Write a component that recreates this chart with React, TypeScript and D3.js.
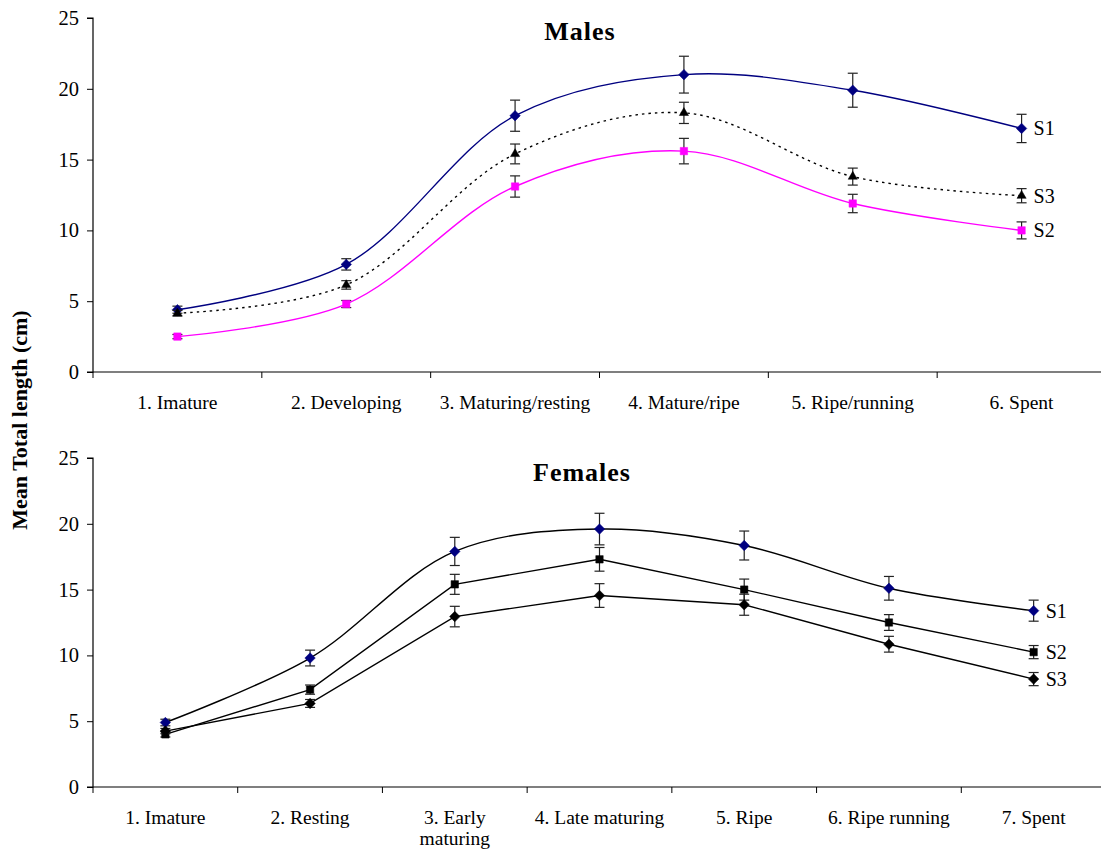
import React, { useRef, useEffect } from "react";
import * as d3 from "d3";

// Males
const maleStages = ["1. Imature", "2. Developing", "3. Maturing/resting", "4. Mature/ripe", "5. Ripe/running", "6. Spent"];
const maleS1 = [4.4, 7.6, 18.1, 21.0, 19.9, 17.2];
const maleS1Err = [0.25, 0.4, 1.1, 1.3, 1.2, 1.0];
const maleS2 = [2.5, 4.8, 13.1, 15.6, 11.9, 10.0];
const maleS2Err = [0.15, 0.25, 0.75, 0.9, 0.65, 0.6];
const maleS3 = [4.15, 6.15, 15.4, 18.3, 13.8, 12.45];
const maleS3Err = [0.2, 0.3, 0.7, 0.75, 0.6, 0.5];

// Females
const femaleStages = ["1. Imature", "2. Resting", "3. Early|maturing", "4. Late maturing", "5. Ripe", "6. Ripe running", "7. Spent"];
const femaleS1 = [4.9, 9.8, 17.9, 19.6, 18.35, 15.1, 13.4];
const femaleS1Err = [0.25, 0.6, 1.07, 1.2, 1.1, 0.9, 0.8];
const femaleS2 = [4.0, 7.4, 15.4, 17.3, 15.0, 12.5, 10.25];
const femaleS2Err = [0.2, 0.35, 0.76, 0.9, 0.8, 0.6, 0.5];
const femaleS3 = [4.25, 6.35, 12.95, 14.55, 13.85, 10.85, 8.2];
const femaleS3Err = [0.2, 0.3, 0.78, 0.9, 0.8, 0.6, 0.5];

const yTicks = [0, 5, 10, 15, 20, 25];
const FONT = "'Liberation Serif', 'Times New Roman', serif";

type Series = {
  name: string;
  values: number[];
  err: number[];
  stroke: string;
  dash?: string;
  smooth: boolean;
  marker: "diamond" | "square" | "triangle";
  fill: string;
};

function drawPanel(
  svg: d3.Selection<SVGSVGElement, unknown, null, undefined>,
  stages: string[],
  series: Series[],
  title: string,
  box: { x0: number; x1: number; yTop: number; yBottom: number },
  titlePos: [number, number]
) {
  const x = d3.scaleBand().domain(stages).range([box.x0, box.x1]).padding(0);
  const y = d3.scaleLinear().domain([0, 25]).range([box.yBottom, box.yTop]);
  const cx = (i: number) => (x(stages[i]) as number) + x.bandwidth() / 2;
  const g = svg.append("g");

  // y axis
  const ya = g.append("g")
    .attr("transform", `translate(${box.x0},0)`)
    .call(d3.axisLeft(y).tickValues(yTicks).tickSize(6).tickPadding(8));
  ya.select(".domain").attr("stroke", "#000").attr("stroke-width", 1.2).attr("d", `M-6,${box.yBottom}H0V${box.yTop}H-6`);
  ya.selectAll("line").attr("stroke", "#000");
  ya.selectAll("text").attr("font-family", FONT).attr("font-size", 20.5).attr("fill", "#000");

  // x axis
  const xa = g.append("g").attr("transform", `translate(0,${box.yBottom})`);
  xa.append("line").attr("x1", box.x0).attr("x2", box.x1).attr("stroke", "#000").attr("stroke-width", 1.2);
  stages.forEach((s, i) => {
    const tx = x(s) as number;
    xa.append("line").attr("x1", tx).attr("x2", tx).attr("y1", 0).attr("y2", 6).attr("stroke", "#000");
    s.split("|").forEach((l, j) => {
      xa.append("text")
        .attr("x", cx(i))
        .attr("y", 37 + j * 21)
        .attr("text-anchor", "middle")
        .attr("font-family", FONT)
        .attr("font-size", 19.5)
        .text(l);
    });
  });

  // title
  g.append("text")
    .attr("x", titlePos[0])
    .attr("y", titlePos[1])
    .attr("text-anchor", "middle")
    .attr("font-family", FONT)
    .attr("font-weight", "bold")
    .attr("font-size", 26)
    .attr("letter-spacing", 1)
    .text(title);

  series.forEach((se) => {
    const line = d3.line<number>()
      .x((_, i) => cx(i))
      .y((d) => y(d))
      .curve(se.smooth ? d3.curveCatmullRom.alpha(0.5) : d3.curveLinear);
    g.append("path")
      .attr("d", line(se.values))
      .attr("fill", "none")
      .attr("stroke", se.stroke)
      .attr("stroke-width", 1.4)
      .attr("stroke-dasharray", se.dash || null);

    // error bars
    se.values.forEach((v, i) => {
      const px = cx(i);
      const top = y(v + se.err[i]);
      const bot = y(v - se.err[i]);
      g.append("line").attr("x1", px).attr("x2", px).attr("y1", top).attr("y2", bot).attr("stroke", "#222").attr("stroke-width", 1.2);
      g.append("line").attr("x1", px - 5).attr("x2", px + 5).attr("y1", top).attr("y2", top).attr("stroke", "#222").attr("stroke-width", 1.2);
      g.append("line").attr("x1", px - 5).attr("x2", px + 5).attr("y1", bot).attr("y2", bot).attr("stroke", "#222").attr("stroke-width", 1.2);
    });

    // markers
    const symType = se.marker === "diamond" ? d3.symbolDiamond2 : se.marker === "square" ? d3.symbolSquare2 : d3.symbolTriangle2;
    const size = se.marker === "triangle" ? 60 : 70;
    const sym = d3.symbol().type(symType).size(size);
    se.values.forEach((v, i) => {
      g.append("path")
        .attr("transform", `translate(${cx(i)},${y(v)})`)
        .attr("d", sym())
        .attr("fill", se.fill)
        .attr("stroke", se.fill)
        .attr("stroke-width", 0.5);
    });

    // series label
    const last = se.values.length - 1;
    g.append("text")
      .attr("x", cx(last) + 12)
      .attr("y", y(se.values[last]) + 7)
      .attr("font-family", FONT)
      .attr("font-size", 20)
      .text(se.name);
  });
}

export default function App() {
  const ref = useRef<SVGSVGElement | null>(null);
  const width = 1101, height = 850;

  useEffect(() => {
    const svg = d3.select(ref.current as SVGSVGElement);
    svg.selectAll("*").remove();

    drawPanel(
      svg,
      maleStages,
      [
        { name: "S1", values: maleS1, err: maleS1Err, stroke: "#000080", smooth: true, marker: "diamond", fill: "#000080" },
        { name: "S3", values: maleS3, err: maleS3Err, stroke: "#000", dash: "2.5,4", smooth: true, marker: "triangle", fill: "#000" },
        { name: "S2", values: maleS2, err: maleS2Err, stroke: "#ff00ff", smooth: true, marker: "square", fill: "#ff00ff" },
      ],
      "Males",
      { x0: 93, x1: 1106, yTop: 18, yBottom: 372 },
      [580, 40]
    );

    drawPanel(
      svg,
      femaleStages,
      [
        { name: "S1", values: femaleS1, err: femaleS1Err, stroke: "#000", smooth: true, marker: "diamond", fill: "#000080" },
        { name: "S2", values: femaleS2, err: femaleS2Err, stroke: "#000", smooth: false, marker: "square", fill: "#000" },
        { name: "S3", values: femaleS3, err: femaleS3Err, stroke: "#000", smooth: false, marker: "diamond", fill: "#000" },
      ],
      "Females",
      { x0: 93, x1: 1106, yTop: 458, yBottom: 787 },
      [582, 481]
    );

    // y axis label
    svg.append("text")
      .attr("transform", "translate(27,420) rotate(-90)")
      .attr("text-anchor", "middle")
      .attr("font-family", FONT)
      .attr("font-weight", "bold")
      .attr("font-size", 22)
      .text("Mean Total length (cm)");
  }, []);

  return (
    <svg
      ref={ref}
      width={width}
      height={height}
      style={{ position: "absolute", left: 0, top: 0, background: "#fff" }}
    />
  );
}
